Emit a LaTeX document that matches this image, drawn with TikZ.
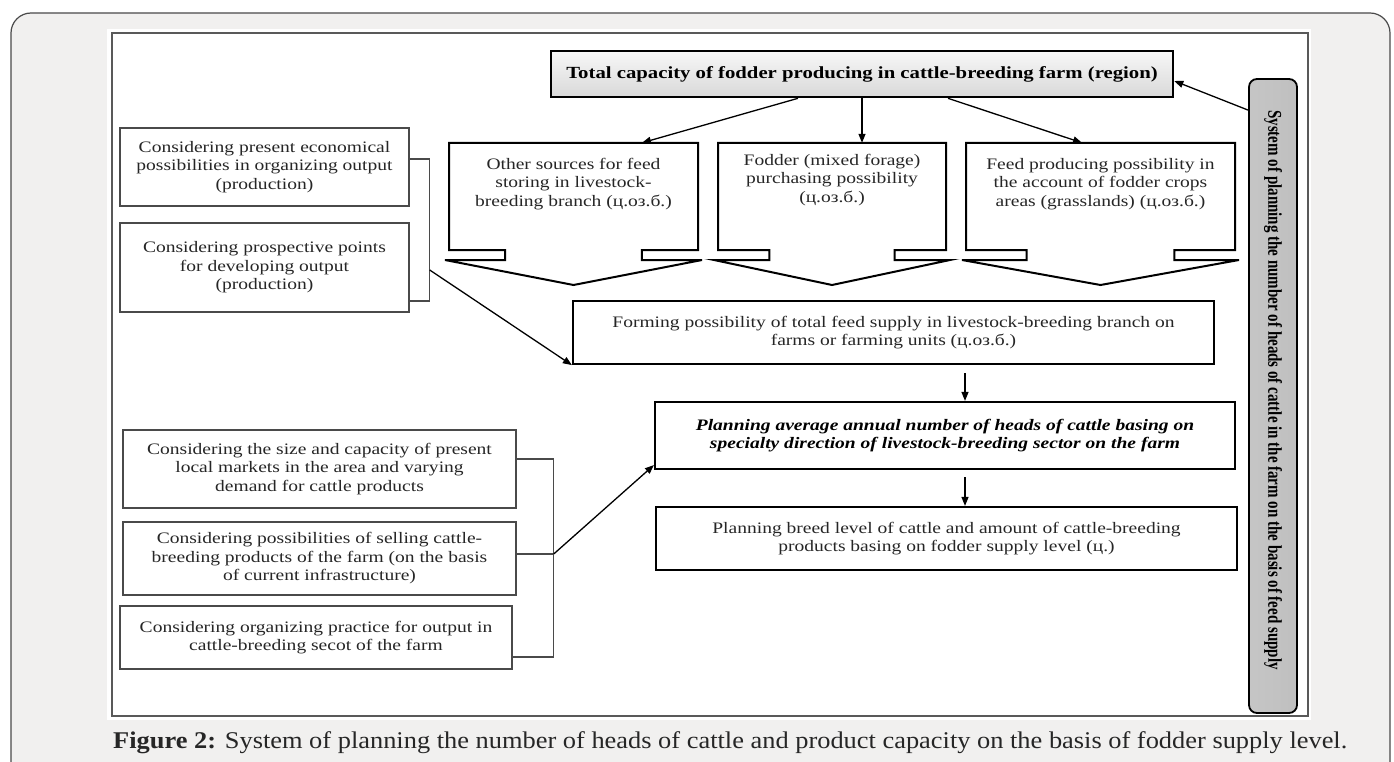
\documentclass[tikz,border=0pt]{standalone}
\usepackage{fontspec}
\setmainfont{Liberation Serif}
\newfontfamily\diagfont{Liberation Serif}[FakeStretch=1.22]
\newfontfamily\capfont{Liberation Serif}[FakeStretch=1.1]
\usetikzlibrary{arrows.meta}

\definecolor{pagegray}{HTML}{F1F0EF}
\definecolor{framegray}{HTML}{4A4A4A}
\definecolor{inkgray}{HTML}{262626}

\begin{document}
\begin{tikzpicture}[x=1pt,y=-1pt]
\tikzstyle{every node}+=[inner sep=0pt]
\tikzstyle{txt}=[align=center, text=inkgray, font=\diagfont\fontsize{16}{18.5}\selectfont]
\tikzstyle{thinbox}=[txt, draw=framegray, line width=1.4pt, fill=white]
\tikzstyle{fatbox}=[txt, draw=black, line width=2.2pt, fill=white]
\tikzstyle{arr}=[line width=1.3pt, -{Triangle[length=9pt,width=7pt]}]
\tikzstyle{brk}=[line width=1.1pt, framegray]
\useasboundingbox (0,0) rectangle (1394,762);
% page and figure frame
\fill[pagegray, draw=framegray, line width=1.2pt, rounded corners=20pt] (11,13) rectangle (1390,800);
\fill[white] (107,29) rectangle (1311,720);
\draw[gray!70!black, line width=1.6pt] (112,33) rectangle (1308,716);
% top level
\node[fatbox, line width=2.6pt, top color=gray!6, bottom color=gray!30, minimum width=622, minimum height=46, text=black, font=\diagfont\bfseries\fontsize{17}{19}\selectfont] (top) at (862,74) {Total capacity of fodder producing in cattle-breeding farm (region)};
\node[draw=black, line width=1.8pt, rounded corners=8pt, minimum width=48, minimum height=634, left color=gray!45, middle color=gray!4, right color=gray!50] (side) at (1273,396) {};
\node[rotate=-90, yscale=1.3, text=black, font=\bfseries\fontsize{15}{18}\selectfont] (sideT) at ([yshift=6pt]side) {System of planning the number of heads of cattle in the farm on the basis of feed supply};
% the three sources
\foreach \l/\r/\n in {449/698/other, 718/946/fodder, 966/1235/feed}{
  \pgfmathsetmacro\w{0.225*(\r-\l)}
  \pgfmathsetmacro\m{(\l+\r)/2}
  \draw[line width=2pt, fill=white] (\l,143) -- (\l,250) -- (\l+\w,250) -- (\l+\w,260) -- (\l-4,260) -- (\m,285) -- (\r+4,260) -- (\r-\w,260) -- (\r-\w,250) -- (\r,250) -- (\r,143) -- cycle;
  \node[minimum width=\r-\l, minimum height=107] (\n) at (\m,196.5) {};
}
\node[txt] (otherT) at ([yshift=12.5pt]other) {Other sources for feed\\storing in livestock-\\breeding branch (ц.оз.б.)};
\node[txt] (fodderT) at ([yshift=16.5pt]fodder) {Fodder (mixed forage)\\purchasing possibility\\(ц.оз.б.)};
\node[txt] (feedT) at ([yshift=12.5pt]feed) {Feed producing possibility in\\the account of fodder crops\\areas (grasslands) (ц.оз.б.)};
% main chain
\node[fatbox, minimum width=641, minimum height=63] (form) at (893.5,332.5) {Forming possibility of total feed supply in livestock-breeding branch on\\farms or farming units (ц.оз.б.)};
\node[fatbox, minimum width=580, minimum height=67, text=black, font=\diagfont\bfseries\itshape\fontsize{16}{18.5}\selectfont] (plan) at (945,435.5) {Planning average annual number of heads of cattle basing on\\specialty direction of livestock-breeding sector on the farm};
\node[fatbox, minimum width=581, minimum height=63] (breed) at (946.5,538.5) {Planning breed level of cattle and amount of cattle-breeding\\products basing on fodder supply level (ц.)};
% considerations
\node[thinbox, minimum width=289, minimum height=78] (c1) at (264.5,167) {Considering present economical\\possibilities in organizing output\\(production)};
\node[thinbox, minimum width=289, minimum height=89] (c2) at (264.5,267.5) {Considering prospective points\\for developing output\\(production)};
\node[thinbox, minimum width=393, minimum height=78] (mA) at (319.5,469) {Considering the size and capacity of present\\local markets in the area and varying\\demand for cattle products};
\node[thinbox, minimum width=393, minimum height=73] (mB) at (319.5,558.5) {Considering possibilities of selling cattle-\\breeding products of the farm (on the basis\\of current infrastructure)};
\node[thinbox, minimum width=392, minimum height=63] (mC) at (316,637.5) {Considering organizing practice for output in\\cattle-breeding secot of the farm};
% connectors
\draw[arr] ([xshift=-64pt]top.south) -- ([xshift=68.5pt]other.north);
\draw[arr] (top.south) -- (top.south |- fodder.north);
\draw[arr] ([xshift=86pt]top.south) -- ([xshift=-18.5pt]feed.north);
\draw[arr] ([yshift=-32pt]side.north west) -- ([yshift=-7pt]top.east);
\draw[brk] ([yshift=8pt]c1.east) -| ([xshift=20pt,yshift=-33.5pt]c2.east) -- ([yshift=-33.5pt]c2.east);
\draw[arr] ([xshift=20pt,yshift=-2.5pt]c2.east) -- (form.south west);
\draw[brk] ([yshift=10pt]mA.east) -| ([xshift=41pt,yshift=-19.5pt]mC.east) -- ([yshift=-19.5pt]mC.east);
\draw[brk] ([yshift=4.5pt]mB.east) -- ([xshift=37pt,yshift=4.5pt]mB.east);
\draw[arr] ([xshift=37pt,yshift=4.5pt]mB.east) -- ([yshift=5pt]plan.south west);
\draw[arr] ([xshift=71.5pt,yshift=-8pt]form.south) -- ([xshift=20pt]plan.north);
\draw[arr] ([xshift=20pt,yshift=-7pt]plan.south) -- ([xshift=18.5pt]breed.north);
% caption
\node[anchor=base west, text=black!85, font=\capfont\fontsize{24}{28}\selectfont] (cap) at (113,748) {\textbf{Figure 2:} System of planning the number of heads of cattle and product capacity on the basis of fodder supply level.};
\end{tikzpicture}
\end{document}
